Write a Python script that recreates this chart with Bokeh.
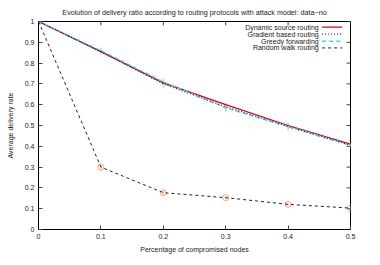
from bokeh.plotting import figure
from bokeh.models import FixedTicker, Range1d
from bokeh.embed import file_html
from bokeh.resources import INLINE
from bokeh.core.properties import value

x = [0, 0.1, 0.2, 0.3, 0.4, 0.5]
dynamic = [1.0, 0.855, 0.705, 0.600, 0.500, 0.410]
gradient = [1.0, 0.855, 0.700, 0.590, 0.495, 0.405]
greedy = [1.0, 0.860, 0.710, 0.585, 0.495, 0.405]
random_walk = [1.0, 0.300, 0.177, 0.153, 0.121, 0.103]
greedy_err = [0.0, 0.015, 0.015, 0.02, 0.015, 0.01]
gradient_err = [0.0, 0.015, 0.02, 0.02, 0.02, 0.01]
random_err = [0.0, 0.012, 0.01, 0.008, 0.008, 0.006]

labels = ["Dynamic source routing", "Gradient based routing",
          "Greedy forwarding", "Random walk routing"]
title = "Evolution of delivery ratio according to routing protocols with attack model: data\u2212no"
xlabel = "Percentage of compromised nodes"
ylabel = "Average delivery rate"
xticks = [0, 0.1, 0.2, 0.3, 0.4, 0.5]
yticks = [0, 0.1, 0.2, 0.3, 0.4, 0.5, 0.6, 0.7, 0.8, 0.9, 1.0]

FONT = "Liberation Sans"
W, H = 372, 257
BL, BR, BT, BB = 38, 22, 20, 28
FW, FH = W - BL - BR, H - BT - BB

p = figure(width=W, height=H, output_backend="svg", toolbar_location=None,
           x_range=Range1d(0, 0.5), y_range=Range1d(0, 1.0),
           min_border_left=BL, min_border_right=BR, min_border_top=BT, min_border_bottom=BB)
p.grid.visible = False
p.outline_line_color = "black"
p.outline_line_width = 1
p.background_fill_color = "white"
p.border_fill_color = "white"

for ax in (p.xaxis[0], p.yaxis[0]):
    ax.major_tick_in = 4
    ax.major_tick_out = 0
    ax.minor_tick_in = 0
    ax.minor_tick_out = 0
    ax.axis_line_color = "black"
    ax.major_tick_line_color = "#444444"
    ax.major_label_text_font = FONT
    ax.major_label_text_font_size = "7px"
    ax.major_label_text_color = "#222222"
    ax.major_label_standoff = 4
    ax.axis_label_text_font = FONT
    ax.axis_label_text_font_size = "7px"
    ax.axis_label_text_font_style = "normal"
    ax.axis_label_text_color = "#222222"

p.xaxis.ticker = FixedTicker(ticks=xticks)
p.yaxis.ticker = FixedTicker(ticks=yticks)
p.xaxis.major_label_overrides = {t: ("0" if t == 0 else f"{t:g}") for t in xticks}
p.yaxis.major_label_overrides = {t: ("0" if t == 0 else f"{t:g}") for t in yticks}
p.xaxis.axis_label = xlabel
p.yaxis.axis_label = ylabel
p.xaxis.axis_label_standoff = 4
p.yaxis.axis_label_standoff = 8

# mirrored inward ticks on top and right (gnuplot style)
tx = 4 * 0.5 / FW
ty = 4 * 1.0 / FH
p.segment(x0=xticks, x1=xticks, y0=[1.0] * len(xticks), y1=[1.0 - ty] * len(xticks),
          line_color="#444444", line_width=1)
p.segment(x0=[0.5] * len(yticks), x1=[0.5 - tx] * len(yticks), y0=yticks, y1=yticks,
          line_color="#444444", line_width=1)

# error bars
p.segment(x0=x, x1=x, y0=[g - e for g, e in zip(greedy, greedy_err)],
          y1=[g + e for g, e in zip(greedy, greedy_err)], line_color="#c8e040", line_width=1)
p.segment(x0=x, x1=x, y0=[g - e for g, e in zip(gradient, gradient_err)],
          y1=[g + e for g, e in zip(gradient, gradient_err)], line_color="#c8b8d8", line_width=1, line_alpha=0.8)
p.segment(x0=x, x1=x, y0=[g - e for g, e in zip(random_walk, random_err)],
          y1=[g + e for g, e in zip(random_walk, random_err)], line_color="#f4a582", line_width=1)
p.scatter(x, random_walk, marker="circle", size=6, fill_alpha=0, line_color="#f4a582", line_width=1)
p.scatter(x, greedy, marker="dash", size=4, line_color="#c8e040", line_width=1)

# lines
p.line(x, random_walk, line_color="#222222", line_width=1, line_dash="3 3")
p.line(x, dynamic, line_color="#e00000", line_width=1.3)
p.line(x, greedy, line_color="#30e0f0", line_width=1.5, line_dash="4 3")
p.line(x, gradient, line_color="#2020a0", line_width=1.2, line_dash="1 2")

# legend (gnuplot style: text right-aligned, sample to the right)
leg_y = [0.973, 0.939, 0.905, 0.873]
leg_styles = [("#e00000", None, 1.3), ("#2020a0", "1 2", 1.2),
              ("#30e0f0", "4 3", 1.5), ("#222222", "3 3", 1.0)]
p.text(x=[0.449] * 4, y=leg_y, text=labels, text_align="right", text_baseline="middle",
       text_font=value(FONT), text_font_size="7px", text_color="#222222")
for yy, (c, d, w) in zip(leg_y, leg_styles):
    kw = dict(line_color=c, line_width=w)
    if d:
        kw["line_dash"] = d
    p.line([0.4546, 0.4867], [yy, yy], **kw)

p.title.text = title
p.title.text_font = FONT
p.title.text_font_size = "7.2px"
p.title.text_font_style = "normal"
p.title.align = "center"
p.title.text_color = "#222222"
p.title.standoff = 10
p.title.offset = 0

open("out.html", "w").write(file_html(p, INLINE))
